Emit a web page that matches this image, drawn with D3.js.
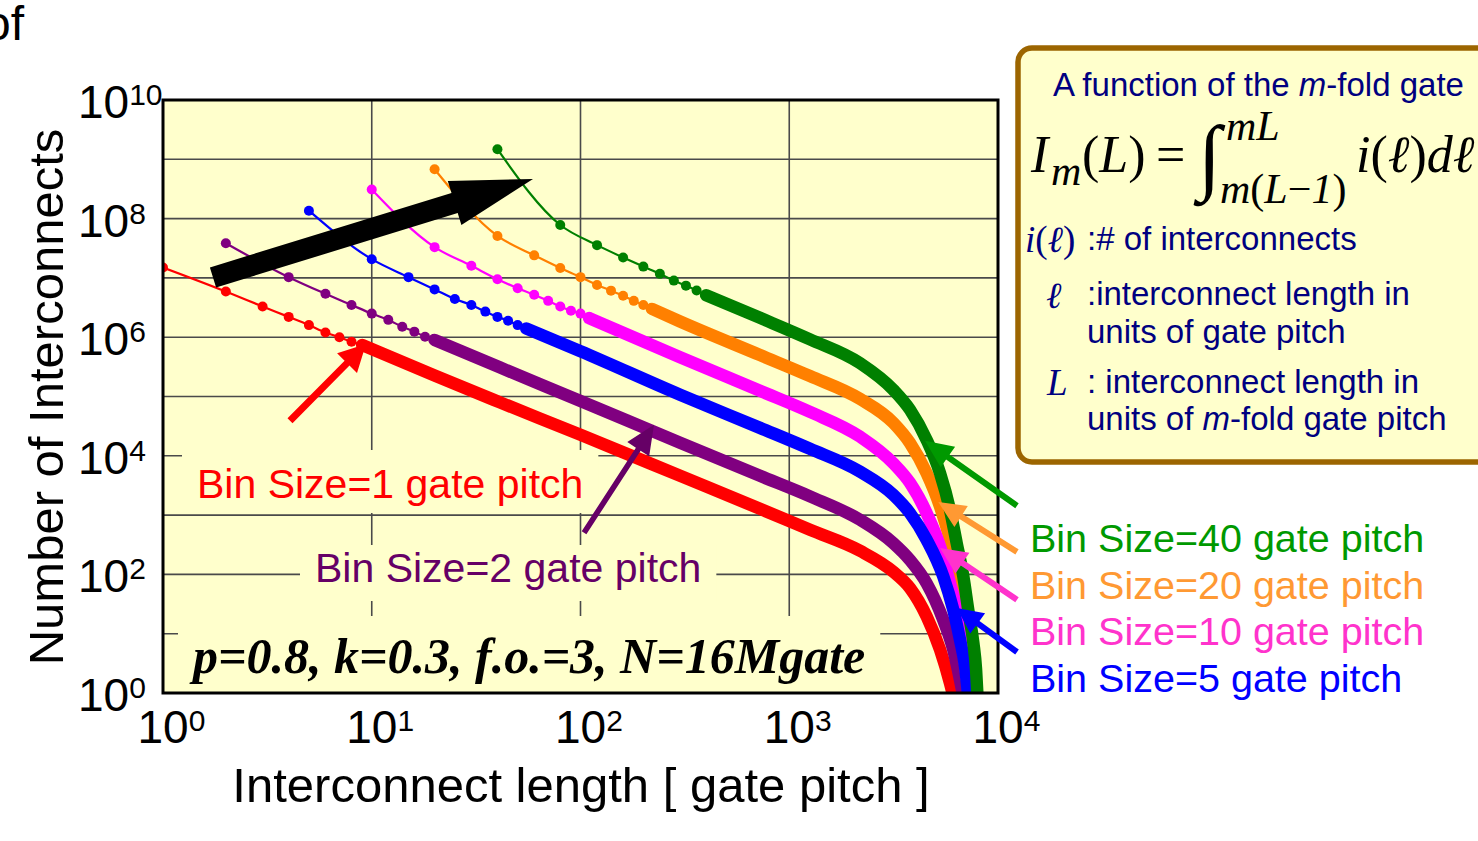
<!DOCTYPE html>
<html>
<head>
<meta charset="utf-8">
<script src="https://cdn.jsdelivr.net/npm/d3@7"></script>
<style>
	body { margin: 0; background: #fff; }
	svg { display: block; }
</style>
</head>
<body>
<svg id="chart" width="1478" height="841"></svg>
<script>

// axis ticks
var xTicks = [1, 10, 100, 1000, 10000];
var xTickExp = ['0', '1', '2', '3', '4'];
var yTicks = [1, 1e2, 1e4, 1e6, 1e8, 1e10];
var yTickExp = ['0', '2', '4', '6', '8', '10'];
var xGrid = [10, 100, 1000];
var yGrid = [1e1, 1e2, 1e3, 1e4, 1e5, 1e6, 1e7, 1e8, 1e9];

// [interconnect length in gate pitch, number of interconnects]
// "marks" = the separate markers, "tail" = where markers merge into a band
var bin1Marks = [[1, 1.5e7], [2, 5.9e6], [3, 3.3e6], [4, 2.2e6], [5, 1.6e6], [6, 1.2e6], [7, 1.0e6], [8, 8.4e5], [9, 7.4e5]];
var bin1Tail = [[20, 2.25e5], [41, 8.0e4], [100, 2.26e4], [300, 4.6e3], [724, 1.28e3], [1257, 565], [2183, 250], [3150, 111], [3786, 59], [4550, 19.6], [5275, 5.4], [5890, 1.47], [6110, 0.88]];

var bin2Marks = [[2, 3.85e7], [4, 1.03e7], [6, 5.4e6], [8, 3.5e6], [10, 2.5e6], [12, 1.96e6], [14, 1.5e6], [16, 1.24e6], [18, 1.02e6], [20, 9.0e5]];
var bin2Tail = [[41, 3.1e5], [100, 8.4e4], [300, 1.66e4], [724, 4.6e3], [1257, 2.07e3], [2183, 834], [3150, 337], [3786, 175], [4550, 71], [5470, 17], [6110, 5.3], [6577, 1.66], [6823, 0.87]];

var bin5Marks = [[5, 1.36e8], [10, 2.07e7], [15, 1.03e7], [20, 6.4e6], [25, 4.4e6], [30, 3.5e6], [35, 2.7e6], [40, 2.2e6], [45, 1.9e6], [50, 1.6e6], [55, 1.4e6]];
var bin5Tail = [[100, 5.8e5], [300, 1.07e5], [724, 2.96e4], [1257, 1.31e4], [2183, 5.4e3], [3150, 2.2e3], [3786, 1.08e3], [4550, 384], [5470, 92], [6110, 25], [6577, 7.9], [6950, 2.8], [7206, 0.87]];

var bin10Marks = [[10, 3.1e8], [20, 3.3e7], [30, 1.6e7], [40, 9.5e6], [50, 6.7e6], [60, 5.2e6], [70, 4.1e6], [80, 3.3e6], [90, 2.8e6], [100, 2.5e6], [110, 2.1e6]];
var bin10Tail = [[300, 4.6e5], [724, 1.25e5], [1257, 5.5e4], [2183, 2.1e4], [3150, 7.5e3], [3786, 3.5e3], [4550, 1.08e3], [5275, 296], [5890, 71], [6457, 19.5], [6823, 5.4], [7080, 1.9], [7290, 0.87]];

var bin20Marks = [[20, 6.8e8], [40, 5.1e7], [60, 2.4e7], [80, 1.47e7], [100, 1.03e7], [120, 7.6e6], [140, 6.1e6], [160, 5.0e6], [180, 4.1e6], [200, 3.5e6], [220, 3.0e6]];
var bin20Tail = [[300, 1.84e6], [724, 5.0e5], [1257, 2.21e5], [2183, 9.1e4], [3150, 3.6e4], [3786, 1.64e4], [4550, 5.1e3], [5275, 1.4e3], [5890, 384], [6457, 92], [6823, 25], [7206, 7.0], [7480, 1.9], [7620, 0.87]];

var bin40Marks = [[40, 1.48e9], [80, 7.8e7], [120, 3.57e7], [160, 2.21e7], [200, 1.55e7], [240, 1.17e7], [280, 9.0e6], [320, 7.4e6], [360, 6.15e6], [400, 5.1e6]];
var bin40Tail = [[724, 2.12e6], [1257, 9.2e5], [2183, 3.65e5], [3150, 1.3e5], [3786, 6.0e4], [4550, 1.86e4], [5275, 5.1e3], [5890, 1.23e3], [6340, 337], [6823, 92], [7206, 25], [7620, 7.0], [7850, 2.5], [7960, 1.0]];

var W = 1478, H = 841;
var sans = '"Liberation Sans", Arial, sans-serif';
var serif = '"Liberation Serif", "Times New Roman", serif';
var navy = '#000080';

var svg = d3.select('#chart');

var x = d3.scaleLog().domain([1, 1e4]).range([163, 998]);
var y = d3.scaleLog().domain([1, 1e10]).range([693, 100]);

svg.append('rect').attr('width', W).attr('height', H).attr('fill', '#fff');

// leftover word from the slide above
svg.append('text')
	.attr('x', -16).attr('y', 40)
	.style('font-family', sans).style('font-size', '48px')
	.text('of');

// y tick labels first, the plot frame sits on top of 10^10
yTicks.forEach(function(v, i) {
	var t = svg.append('text')
		.attr('x', 78).attr('y', y(v) + 18)
		.style('font-family', sans).style('font-size', '46px')
		.text('10');
	t.append('tspan').attr('dy', -13).style('font-size', '30px').text(yTickExp[i]);
});

xTicks.forEach(function(v, i) {
	var t = svg.append('text')
		.attr('x', x(v) - 25.5).attr('y', 743)
		.style('font-family', sans).style('font-size', '46px')
		.text('10');
	t.append('tspan').attr('dy', -12).style('font-size', '30px').text(xTickExp[i]);
});

// plot area
svg.append('rect')
	.attr('x', x(1)).attr('y', y(1e10))
	.attr('width', x(1e4) - x(1)).attr('height', y(1) - y(1e10))
	.attr('fill', '#FFFFCC');

var grid = svg.append('g').attr('stroke', '#4a4a4a').attr('stroke-width', 1.6);
grid.selectAll('.gx').data(xGrid).enter().append('line')
	.attr('x1', d => x(d)).attr('x2', d => x(d))
	.attr('y1', y(1e10)).attr('y2', y(1));
grid.selectAll('.gy').data(yGrid).enter().append('line')
	.attr('x1', x(1)).attr('x2', x(1e4))
	.attr('y1', d => y(d)).attr('y2', d => y(d));

// labels inside the plot, each on a patch that hides the grid
var inLabels = [
	{ text: 'Bin Size=1 gate pitch', x: 197, y: 498, size: 41, color: '#FF0000', pad: [15, 11, 6] },
	{ text: 'Bin Size=2 gate pitch', x: 315, y: 582, size: 41, color: '#660066', pad: [15, 0, 10] }
];
var boxes = svg.append('g');
inLabels.forEach(function(l) {
	var t = svg.append('text')
		.attr('x', l.x).attr('y', l.y)
		.attr('fill', l.color)
		.style('font-family', sans).style('font-size', l.size + 'px')
		.text(l.text);
	var b = t.node().getBBox();
	boxes.append('rect')
		.attr('x', b.x - l.pad[0]).attr('y', b.y - l.pad[1])
		.attr('width', b.width + 2 * l.pad[0]).attr('height', b.height + l.pad[1] + l.pad[2])
		.attr('fill', '#FFFFCC');
});

var ptext = svg.append('text')
	.attr('x', 193).attr('y', 673)
	.style('font-family', serif).style('font-size', '50px')
	.style('font-weight', 'bold').style('font-style', 'italic')
	.text('p=0.8, k=0.3, f.o.=3, N=16Mgate');
var pb = ptext.node().getBBox();
boxes.append('rect')
	.attr('x', pb.x - 11).attr('y', pb.y - 12)
	.attr('width', pb.width + 26).attr('height', y(1) - pb.y + 12)
	.attr('fill', '#FFFFCC');

// curves
svg.append('clipPath').attr('id', 'plotclip')
	.append('rect')
	.attr('x', x(1)).attr('y', y(1e10))
	.attr('width', x(1e4) - x(1)).attr('height', y(1) - y(1e10));

var series = [
	{ marks: bin1Marks, tail: bin1Tail, color: '#FF0000' },
	{ marks: bin2Marks, tail: bin2Tail, color: '#800080' },
	{ marks: bin20Marks, tail: bin20Tail, color: '#FF8000' },
	{ marks: bin10Marks, tail: bin10Tail, color: '#FF00FF' },
	{ marks: bin5Marks, tail: bin5Tail, color: '#0000FF' },
	{ marks: bin40Marks, tail: bin40Tail, color: '#008000' }
];

var line = d3.line()
	.x(d => x(d[0]))
	.y(d => y(d[1]))
	.curve(d3.curveMonotoneX);

var curves = svg.append('g').attr('clip-path', 'url(#plotclip)');

series.forEach(function(s) {
	var g = curves.append('g');
	g.append('path')
		.attr('d', line(s.marks.concat(s.tail)))
		.attr('fill', 'none')
		.attr('stroke', s.color)
		.attr('stroke-width', 2.2);
	g.append('path')
		.attr('d', line([s.marks[s.marks.length - 1]].concat(s.tail)))
		.attr('fill', 'none')
		.attr('stroke', s.color)
		.attr('stroke-width', 12.5)
		.attr('stroke-linecap', 'round')
		.attr('stroke-linejoin', 'round');
	g.selectAll('circle').data(s.marks).enter().append('circle')
		.attr('cx', d => x(d[0]))
		.attr('cy', d => y(d[1]))
		.attr('r', 5)
		.attr('fill', s.color);
});

// frame
svg.append('rect')
	.attr('x', x(1)).attr('y', y(1e10))
	.attr('width', x(1e4) - x(1)).attr('height', y(1) - y(1e10))
	.attr('fill', 'none').attr('stroke', '#000').attr('stroke-width', 3);

// arrows, ends given in data units
var arrows = [
	{ from: [1.736, 1.02e7], to: [59.2, 4.67e8], color: '#000', shaft: 21, headW: 46, headL: 82 },
	{ from: [4.06, 3.9e4], to: [9.39, 7.7e5], color: '#FF0000', shaft: 7, headW: 28, headL: 27 },
	{ from: [104, 503], to: [225, 3.33e4], color: '#660066', shaft: 5.5, headW: 26, headL: 29 },
	{ from: [12330, 1435], to: [4470, 1.79e4], color: '#009900', shaft: 6, headW: 25, headL: 28 },
	{ from: [12330, 240], to: [5176, 1656], color: '#FF9933', shaft: 6, headW: 25, headL: 27 },
	{ from: [12330, 37.4], to: [5275, 278], color: '#FF33CC', shaft: 6, headW: 25, headL: 27 },
	{ from: [12330, 4.9], to: [6340, 27.1], color: '#0000FF', shaft: 6, headW: 25, headL: 26 }
];

function arrowPath(a) {
	var x0 = x(a.from[0]), y0 = y(a.from[1]);
	var x1 = x(a.to[0]), y1 = y(a.to[1]);
	var len = Math.hypot(x1 - x0, y1 - y0);
	var ux = (x1 - x0) / len, uy = (y1 - y0) / len;
	var nx = -uy, ny = ux;
	var bx = x1 - ux * a.headL, by = y1 - uy * a.headL;
	var s = a.shaft / 2, h = a.headW / 2;
	var p = [
		[x0 + nx * s, y0 + ny * s],
		[bx + nx * s, by + ny * s],
		[bx + nx * h, by + ny * h],
		[x1, y1],
		[bx - nx * h, by - ny * h],
		[bx - nx * s, by - ny * s],
		[x0 - nx * s, y0 - ny * s]
	];
	return 'M' + p.map(q => q[0].toFixed(1) + ',' + q[1].toFixed(1)).join('L') + 'Z';
}

svg.selectAll('.arrow').data(arrows).enter().append('path')
	.attr('class', 'arrow')
	.attr('d', arrowPath)
	.attr('fill', d => d.color);

// axis titles
svg.append('text')
	.attr('transform', 'translate(63,397) rotate(-90)')
	.attr('text-anchor', 'middle')
	.style('font-family', sans).style('font-size', '49px')
	.text('Number of Interconnects');

svg.append('text')
	.attr('x', 581).attr('y', 802)
	.attr('text-anchor', 'middle')
	.style('font-family', sans).style('font-size', '49px')
	.text('Interconnect length [ gate pitch ]');

// bin size labels on the right
var rightLabels = [
	{ text: 'Bin Size=40 gate pitch', color: '#009900' },
	{ text: 'Bin Size=20 gate pitch', color: '#FF9933' },
	{ text: 'Bin Size=10 gate pitch', color: '#FF33CC' },
	{ text: 'Bin Size=5 gate pitch', color: '#0000FF' }
];
svg.selectAll('.rlab').data(rightLabels).enter().append('text')
	.attr('x', 1030)
	.attr('y', (d, i) => 552 + i * 46.7)
	.attr('fill', d => d.color)
	.style('font-family', sans).style('font-size', '39.5px')
	.text(d => d.text);

// formula box
svg.append('rect')
	.attr('x', 1018).attr('y', 48)
	.attr('width', 480).attr('height', 414)
	.attr('rx', 14)
	.attr('fill', '#FFFFCC')
	.attr('stroke', '#9C6500').attr('stroke-width', 5.5);

function rich(parent, xx, yy, size, fam, color, parts) {
	var t = parent.append('text')
		.attr('x', xx).attr('y', yy)
		.attr('fill', color)
		.style('font-family', fam).style('font-size', size + 'px');
	parts.forEach(function(p) {
		var ts = t.append('tspan').text(p[0]);
		if (p[1]) ts.style('font-style', 'italic');
	});
	return t;
}

rich(svg, 1053, 96, 33, sans, navy, [['A function of the '], ['m', 1], ['-fold gate']]);

rich(svg, 1031, 172, 52, serif, '#000', [['I', 1]]);
rich(svg, 1051, 185, 42, serif, '#000', [['m', 1]]);
rich(svg, 1082, 172, 52, serif, '#000', [['('], ['L', 1], [')']]);
rich(svg, 1156, 172, 52, serif, '#000', [['=']]);
rich(svg, 1198, 184, 84, serif, '#000', [['\u222B']]);
rich(svg, 1226, 140, 42, serif, '#000', [['mL', 1]]);
rich(svg, 1220, 203, 42, serif, '#000', [['m', 1], ['('], ['L', 1], ['\u2212'], ['1', 1], [')']]);
rich(svg, 1356, 172, 52, serif, '#000', [['i', 1], ['('], ['\u2113', 1], [')'], ['d\u2113', 1]]);

rich(svg, 1025, 252, 37, serif, navy, [['i', 1], ['('], ['\u2113', 1], [')']]);
rich(svg, 1087, 250, 33, sans, navy, [[':# of interconnects']]);
rich(svg, 1046, 308, 37, serif, navy, [['\u2113', 1]]);
rich(svg, 1087, 305, 33, sans, navy, [[':interconnect length in']]);
rich(svg, 1087, 343, 33, sans, navy, [['units of gate pitch']]);
rich(svg, 1047, 395, 37, serif, navy, [['L', 1]]);
rich(svg, 1087, 393, 33, sans, navy, [[': interconnect length in']]);
rich(svg, 1087, 430, 33, sans, navy, [['units of '], ['m', 1], ['-fold gate pitch']]);

</script>
</body>
</html>
